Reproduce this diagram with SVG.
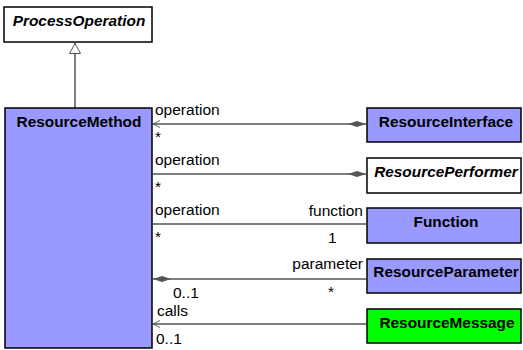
<svg xmlns="http://www.w3.org/2000/svg" width="523" height="350" viewBox="0 0 523 350">
<style>
.box{stroke:#000;stroke-width:1.5}
.blue{fill:#9999ff}
.white{fill:#fff}
.green{fill:#00ff00}
.name{font-family:"Liberation Sans",Arial,sans-serif;font-size:15.4px;font-weight:bold;text-anchor:middle;fill:#000}
.it{font-style:italic}
.lbl{font-family:"Liberation Sans",Arial,sans-serif;font-size:15.5px;fill:#000}
.end{text-anchor:end}
.ln{stroke:#555;stroke-width:1.5;fill:none}
</style>
<defs>
<marker id="open" viewBox="0 0 10 10" refX="10" refY="5" markerWidth="7" markerHeight="9" markerUnits="userSpaceOnUse" orient="auto">
<path d="M0,0 L10,5 L0,10" fill="none" stroke="#555" stroke-width="1.3"/>
</marker>
<marker id="dia" viewBox="0 0 18 6" refX="18" refY="3" markerWidth="18" markerHeight="6" markerUnits="userSpaceOnUse" orient="auto">
<path d="M0,3 L9,0 L18,3 L9,6 Z" fill="#555"/>
</marker>
<marker id="diaS" viewBox="0 0 18 6" refX="0" refY="3" markerWidth="18" markerHeight="6" markerUnits="userSpaceOnUse" orient="auto">
<path d="M0,3 L9,0 L18,3 L9,6 Z" fill="#555"/>
</marker>
<marker id="tri" viewBox="0 0 12 11" refX="6" refY="0" markerWidth="12" markerHeight="11" markerUnits="userSpaceOnUse" orient="0">
<path d="M6,0.5 L11.5,10.5 L0.5,10.5 Z" fill="#fff" stroke="#555" stroke-width="1"/>
</marker>
</defs>
<g id="connectors">
<line class="ln" x1="75" y1="108" x2="75" y2="43" marker-end="url(#tri)"/>
<line class="ln" x1="366" y1="124" x2="153" y2="124" marker-start="url(#diaS)" marker-end="url(#open)"/>
<line class="ln" x1="153" y1="174" x2="366" y2="174" marker-end="url(#dia)"/>
<line class="ln" x1="153" y1="224" x2="366" y2="224"/>
<line class="ln" x1="153" y1="279" x2="366" y2="279" marker-start="url(#diaS)"/>
<line class="ln" x1="366" y1="324" x2="153" y2="324" marker-end="url(#open)"/>
<text class="lbl" x="155" y="115">operation</text>
<text class="lbl" x="155" y="142">*</text>
<text class="lbl" x="155" y="165">operation</text>
<text class="lbl" x="155" y="192">*</text>
<text class="lbl" x="155" y="215">operation</text>
<text class="lbl" x="155" y="242">*</text>
<text class="lbl end" x="363" y="216">function</text>
<text class="lbl" x="328" y="243">1</text>
<text class="lbl end" x="363" y="269">parameter</text>
<text class="lbl" x="328" y="297">*</text>
<text class="lbl" x="173" y="298">0..1</text>
<text class="lbl" x="157" y="316">calls</text>
<text class="lbl" x="156" y="344">0..1</text>
</g>
<g id="ProcessOperation">
<rect class="box white" x="4" y="7" width="148" height="35"/>
<text class="name it" x="79" y="26">ProcessOperation</text>
</g>
<g id="ResourceMethod">
<rect class="box blue" x="5" y="108" width="147" height="240"/>
<text class="name" x="79" y="127">ResourceMethod</text>
</g>
<g id="ResourceInterface">
<rect class="box blue" x="367" y="108" width="154" height="34"/>
<text class="name" x="446" y="127">ResourceInterface</text>
</g>
<g id="ResourcePerformer">
<rect class="box white" x="367" y="158" width="154" height="35"/>
<text class="name it" x="446" y="177">ResourcePerformer</text>
</g>
<g id="Function">
<rect class="box blue" x="367" y="208" width="154" height="35"/>
<text class="name" x="446" y="227">Function</text>
</g>
<g id="ResourceParameter">
<rect class="box blue" x="367" y="259" width="154" height="34"/>
<text class="name" x="446" y="277">ResourceParameter</text>
</g>
<g id="ResourceMessage">
<rect class="box green" x="367" y="309" width="154" height="34"/>
<text class="name" x="447" y="328">ResourceMessage</text>
</g>
</svg>
